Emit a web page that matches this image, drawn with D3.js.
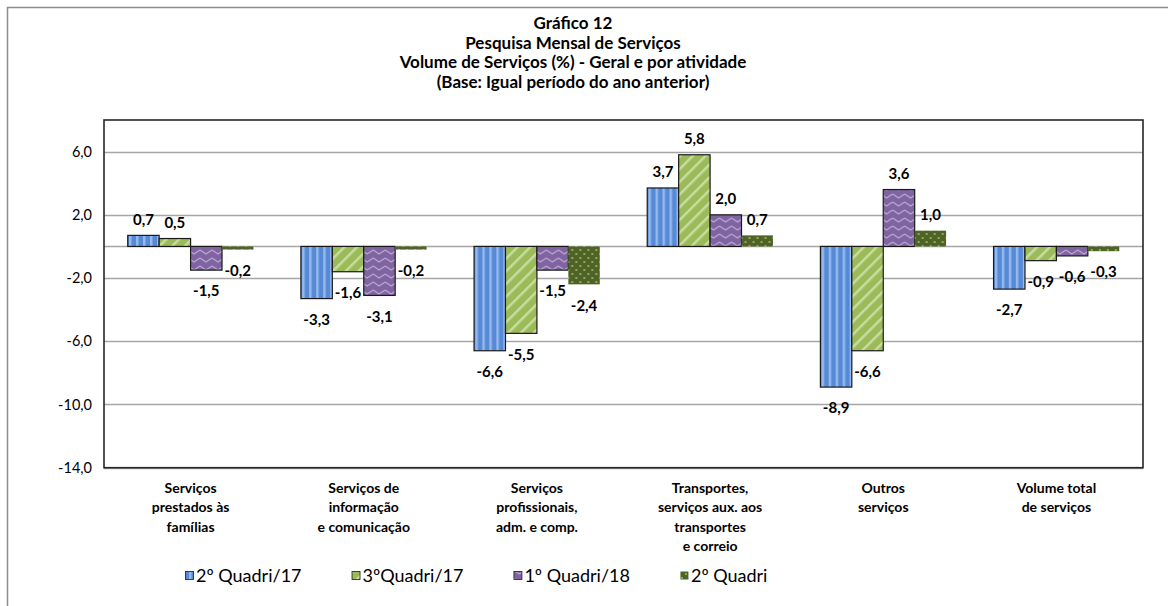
<!DOCTYPE html>
<html>
<head>
<meta charset="utf-8">
<script src="https://cdn.jsdelivr.net/npm/d3@7"></script>
<style>
  body { margin: 0; background: #fff; }
  svg { display: block; font-family: Lato, "Open Sans", sans-serif; }
</style>
</head>
<body>
<div class="canvas"></div>
<script>
// data
const categories = [
  "Serviços\nprestados às\nfamílias",
  "Serviços de\ninformação\ne comunicação",
  "Serviços\nprofissionais,\nadm. e comp.",
  "Transportes,\nserviços aux. aos\ntransportes\ne correio",
  "Outros\nserviços",
  "Volume total\nde serviços"
];
const seriesNames = ["2º Quadri/17", "3ºQuadri/17", "1º Quadri/18", "2º Quadri"];
const q2_17 = [0.7, -3.3, -6.6, 3.7, -8.9, -2.7];
const q3_17 = [0.5, -1.6, -5.5, 5.8, -6.6, -0.9];
const q1_18 = [-1.5, -3.1, -1.5, 2.0, 3.6, -0.6];
const q2_18 = [-0.2, -0.2, -2.4, 0.7, 1.0, -0.3];
const yTicks = [-14, -10, -6, -2, 2, 6];
const titleLines = [
  "Gráfico 12",
  "Pesquisa Mensal de Serviços",
  "Volume de Serviços (%) - Geral e por atividade",
  "(Base: Igual período do ano anterior)"
];

const seriesValues = [q2_17, q3_17, q1_18, q2_18];
const patternIds = ["pBlue", "pGreen", "pPurple", "pDots"];
const strokes = ["#1a1a1a", "#1a1a1a", "#1a1a1a", "none"];

const dims = {width: 1168, height: 606};
const plot = {left: 104, right: 1143, top: 120, bottom: 467.7};

const locale = d3.formatLocale({decimal: ",", thousands: ".", grouping: [3], currency: ["", ""], minus: "-"});
const fmt = locale.format(".1f");

const svg = d3.select(".canvas")
    .append("svg")
    .attr("width", dims.width)
    .attr("height", dims.height);

// fill patterns
const defs = svg.append("defs");
const pb = defs.append("pattern").attr("id", "pBlue")
    .attr("patternUnits", "userSpaceOnUse").attr("width", 7).attr("height", 8);
pb.append("rect").attr("width", 7).attr("height", 8).attr("fill", "#5689d6");
pb.append("rect").attr("x", 4).attr("width", 2.5).attr("height", 8).attr("fill", "#94b9ec");

const pg = defs.append("pattern").attr("id", "pGreen")
    .attr("patternUnits", "userSpaceOnUse").attr("width", 9).attr("height", 9)
    .attr("patternTransform", "rotate(45)");
pg.append("rect").attr("width", 9).attr("height", 9).attr("fill", "#9bbb59");
pg.append("rect").attr("x", 5).attr("width", 2.5).attr("height", 9).attr("fill", "#c8dca0");

const pp = defs.append("pattern").attr("id", "pPurple")
    .attr("patternUnits", "userSpaceOnUse").attr("width", 12).attr("height", 8);
pp.append("rect").attr("width", 12).attr("height", 8).attr("fill", "#8064a2");
pp.append("path").attr("d", "M0,2 L6,6 L12,2").attr("fill", "none")
    .attr("stroke", "#b8a7cf").attr("stroke-width", 1.3);

const pd = defs.append("pattern").attr("id", "pDots")
    .attr("patternUnits", "userSpaceOnUse").attr("width", 8).attr("height", 8);
pd.append("rect").attr("width", 8).attr("height", 8).attr("fill", "#4f6228");
pd.append("circle").attr("cx", 2).attr("cy", 2).attr("r", 1.1).attr("fill", "#9bbb59");
pd.append("circle").attr("cx", 6).attr("cy", 6).attr("r", 1.1).attr("fill", "#9bbb59");

// outer chart frame
svg.append("rect")
    .attr("x", 7.5).attr("y", 7.5)
    .attr("width", 1200).attr("height", 640)
    .attr("fill", "none")
    .attr("stroke", "#8c8c8c")
    .attr("stroke-width", 1.5);

// scales
const y = d3.scaleLinear().domain([-14, 8]).range([plot.bottom, plot.top]);
const x0 = d3.scaleBand().domain(d3.range(categories.length)).range([plot.left, plot.right]);
const gap = x0.bandwidth() * 0.137;
const x1 = d3.scaleBand().domain(d3.range(seriesNames.length)).range([gap, x0.bandwidth() - gap]);

// gridlines
svg.append("g")
    .selectAll("line")
    .data(yTicks.concat([0]))
    .enter().append("line")
    .attr("x1", plot.left).attr("x2", plot.right)
    .attr("y1", d => Math.round(y(d)) + 0.5).attr("y2", d => Math.round(y(d)) + 0.5)
    .attr("stroke", "#a6a6a6")
    .attr("stroke-width", 1.3);

// y axis labels
const yAxis = d3.axisLeft(y).tickValues(yTicks).tickSize(0).tickPadding(12).tickFormat(fmt);
svg.append("g")
    .attr("transform", `translate(${plot.left}, 0)`)
    .call(yAxis)
    .call(g => g.select(".domain").remove())
    .selectAll("text")
    .attr("font-family", "Lato, sans-serif")
    .attr("font-size", 14.5)
    .attr("fill", "#000");

// bars
const rows = categories.map((c, i) => seriesValues.map((s, j) => ({cat: i, ser: j, value: s[i]})));
const groups = svg.append("g")
    .selectAll("g")
    .data(rows)
    .enter().append("g")
    .attr("transform", (d, i) => `translate(${x0(i)}, 0)`);

groups.selectAll("rect")
    .data(d => d)
    .enter().append("rect")
    .attr("x", d => x1(d.ser))
    .attr("y", d => y(Math.max(0, d.value)))
    .attr("width", x1.bandwidth())
    .attr("height", d => Math.abs(y(d.value) - y(0)))
    .attr("fill", d => `url(#${patternIds[d.ser]})`)
    .attr("stroke", d => strokes[d.ser])
    .attr("stroke-width", 1.2);

// data labels
groups.selectAll("text")
    .data(d => d)
    .enter().append("text")
    .attr("x", d => x1(d.ser) + x1.bandwidth() / 2)
    .attr("y", d => d.value >= 0 ? y(d.value) - 16 : y(d.value) + 21)
    .attr("dy", "0.35em")
    .attr("text-anchor", "middle")
    .attr("font-size", 15)
    .attr("font-weight", "bold")
    .attr("fill", "#000")
    .text(d => fmt(d.value));

// plot frame
svg.append("rect")
    .attr("x", plot.left).attr("y", plot.top)
    .attr("width", plot.right - plot.left)
    .attr("height", plot.bottom - plot.top)
    .attr("fill", "none")
    .attr("stroke", "#262626")
    .attr("stroke-width", 1.6);

// category labels
const catLabels = svg.append("g")
    .selectAll("text")
    .data(categories)
    .enter().append("text")
    .attr("x", (d, i) => x0(i) + x0.bandwidth() / 2)
    .attr("y", 488)
    .attr("text-anchor", "middle")
    .attr("font-size", 14)
    .attr("font-weight", "bold")
    .attr("fill", "#000");
catLabels.selectAll("tspan")
    .data(d => d.split("\n"))
    .enter().append("tspan")
    .attr("x", function() { return this.parentNode.getAttribute("x"); })
    .attr("dy", (d, i) => i === 0 ? "0.35em" : 19.5)
    .text(d => d);

// title
svg.append("text")
    .attr("x", 573)
    .attr("y", 23)
    .attr("text-anchor", "middle")
    .attr("font-size", 17)
    .attr("font-weight", "bold")
    .attr("fill", "#000")
    .selectAll("tspan")
    .data(titleLines)
    .enter().append("tspan")
    .attr("x", 573)
    .attr("dy", (d, i) => i === 0 ? "0.35em" : 19.6)
    .text(d => d);

// legend
const legendGroup = svg.append("g").attr("transform", "translate(185, 576)");
let lx = 0;
seriesNames.forEach((name, j) => {
    const item = legendGroup.append("g").attr("transform", `translate(${lx}, 0)`);
    item.append("rect")
        .attr("x", 0.5).attr("y", -4.5)
        .attr("width", 8).attr("height", 8)
        .attr("fill", `url(#${patternIds[j]})`)
        .attr("stroke", strokes[j] === "none" ? "none" : "#1a1a1a")
        .attr("stroke-width", 0.8);
    const t = item.append("text")
        .attr("x", 11)
        .attr("dy", "0.35em")
        .attr("font-size", 18)
        .attr("fill", "#000")
        .text(name);
    lx += 11 + t.node().getComputedTextLength() + 50;
});
</script>
</body>
</html>
